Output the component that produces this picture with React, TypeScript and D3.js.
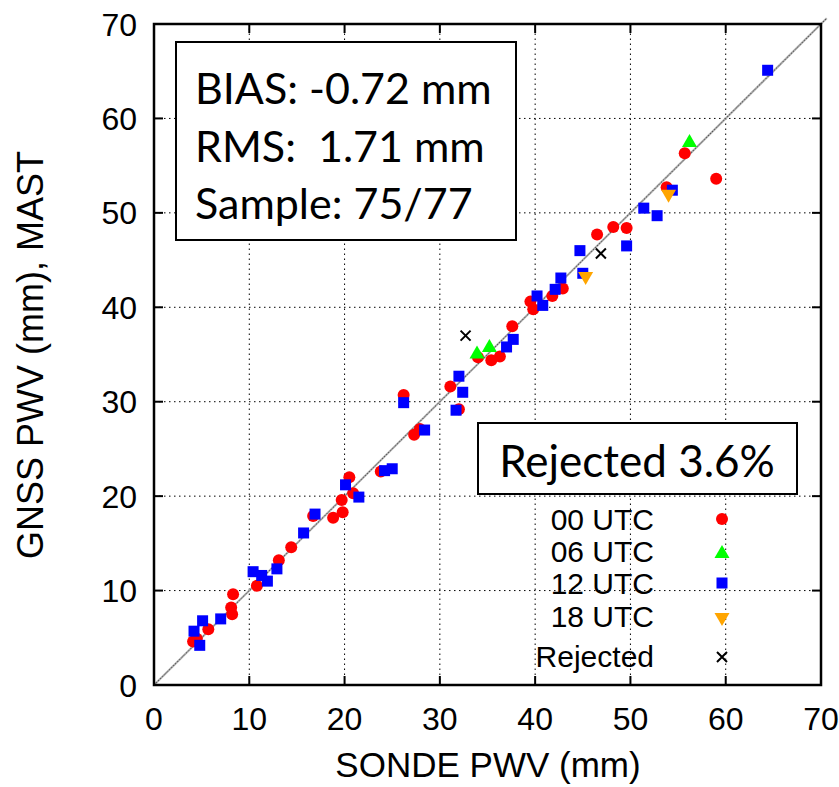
import React from "react";
import * as d3 from "d3";

const W = 839;
const H = 787;

const xTicks = [0, 10, 20, 30, 40, 50, 60, 70];
const yTicks = [0, 10, 20, 30, 40, 50, 60, 70];

const utc00: [number, number][] = [
  [4.1, 4.6], [4.5, 4.9], [5.7, 5.9], [8.3, 9.6], [8.1, 8.2], [8.2, 7.5],
  [10.8, 10.5], [13.1, 13.2], [14.4, 14.6], [16.7, 17.9], [18.8, 17.7],
  [19.7, 19.6], [19.8, 18.3], [20.5, 22.0], [20.9, 20.3], [23.8, 22.6],
  [27.3, 26.5], [27.9, 27.1], [26.2, 30.7], [31.1, 31.6], [32.0, 29.2],
  [34.0, 34.7], [35.4, 34.4], [36.3, 34.8], [37.6, 38.0], [39.5, 40.6],
  [39.8, 39.8], [41.8, 41.2], [42.9, 42.0], [46.5, 47.7], [48.2, 48.5],
  [49.6, 48.4], [53.8, 52.7], [55.7, 56.3], [59.0, 53.6],
];
const utc06: [number, number][] = [[33.9, 35.2], [35.2, 35.9], [56.2, 57.6]];
const utc12: [number, number][] = [
  [4.2, 5.7], [4.8, 4.2], [5.1, 6.8], [7.0, 7.0], [10.4, 12.0], [11.3, 11.6],
  [11.9, 11.0], [12.9, 12.3], [15.7, 16.1], [16.9, 18.1], [20.1, 21.2],
  [21.5, 19.9], [24.2, 22.7], [25.0, 22.9], [26.2, 29.9], [28.4, 27.0],
  [32.0, 32.7], [32.4, 31.0], [31.7, 29.1], [37.0, 35.8], [37.7, 36.6],
  [40.2, 41.2], [40.8, 40.2], [42.1, 41.9], [42.7, 43.1], [44.7, 46.0],
  [45.0, 43.6], [49.6, 46.5], [51.4, 50.5], [52.8, 49.7], [54.4, 52.4],
  [64.4, 65.1],
];
const utc18: [number, number][] = [[45.3, 43.1], [54.0, 51.8]];
const rejected: [number, number][] = [[32.7, 37.0], [46.9, 45.7]];

const statsLines = ["BIAS: -0.72 mm", "RMS:  1.71 mm", "Sample: 75/77"];
const rejectedLabel = "Rejected 3.6%";
const legendLabels = ["00 UTC", "06 UTC", "12 UTC", "18 UTC", "Rejected"];

const L = 154, R = 821, T = 24, B = 685;
const x = d3.scaleLinear().domain([0, 70]).range([L, R]);
const y = d3.scaleLinear().domain([0, 70]).range([B, T]);

const axisFont = "'Liberation Sans', Arial, sans-serif";
const boxFont = "Lato, 'Open Sans', sans-serif";

function Circle({ cx, cy }: { cx: number; cy: number }) {
  return <circle cx={cx} cy={cy} r={6} fill="#ff0000" />;
}
function Square({ cx, cy }: { cx: number; cy: number }) {
  return <rect x={cx - 5.5} y={cy - 5.5} width={11} height={11} fill="#0000ff" />;
}
function TriUp({ cx, cy }: { cx: number; cy: number }) {
  return <path d={`M${cx},${cy - 7} L${cx + 7.5},${cy + 6} L${cx - 7.5},${cy + 6}Z`} fill="#00ff00" />;
}
function TriDown({ cx, cy }: { cx: number; cy: number }) {
  return <path d={`M${cx},${cy + 7} L${cx + 7.5},${cy - 6} L${cx - 7.5},${cy - 6}Z`} fill="#ffa500" />;
}
function Cross({ cx, cy }: { cx: number; cy: number }) {
  const s = 5;
  return (
    <path d={`M${cx - s},${cy - s}L${cx + s},${cy + s}M${cx - s},${cy + s}L${cx + s},${cy - s}`} stroke="#000" strokeWidth={2} />
  );
}

export default function App() {
  const inner = xTicks.filter((t) => t > 0 && t < 70);
  const legX = 722;
  const legY = [519, 552, 583, 619, 657];
  const legTextY = [530, 562, 594, 627, 667];
  return (
    <svg width={W} height={H} style={{ position: "absolute", left: 0, top: 0, background: "#fff" }}>
      <rect x={0} y={0} width={W} height={H} fill="#fff" />
      {inner.map((t) => (
        <line key={"gx" + t} x1={x(t)} x2={x(t)} y1={B} y2={T} stroke="#000" strokeWidth={1} strokeDasharray="1.5,3.5" />
      ))}
      {inner.map((t) => (
        <line key={"gy" + t} x1={L} x2={R} y1={y(t)} y2={y(t)} stroke="#000" strokeWidth={1} strokeDasharray="1.5,3.5" />
      ))}
      <line x1={x(0)} y1={y(0)} x2={x(70.6)} y2={y(70.6)} stroke="#aaaaaa" strokeWidth={2} />
      <line x1={x(0)} y1={y(0)} x2={x(70.6)} y2={y(70.6)} stroke="#000" strokeWidth={0.7} strokeDasharray="1,2" />
      <rect x={176} y={42} width={340} height={198} fill="#fff" stroke="#000" strokeWidth={2} />
      {statsLines.map((s, i) => (
        <text key={s} x={195} y={104 + i * 57.5} fontFamily={boxFont} fontSize={43} fill="#000" style={{ whiteSpace: "pre" }}>
          {s}
        </text>
      ))}
      <rect x={478} y={423} width={319} height={71} fill="#fff" stroke="#000" strokeWidth={2} />
      <text x={637} y={477} textAnchor="middle" fontFamily={boxFont} fontSize={44} fill="#000">
        {rejectedLabel}
      </text>
      {utc00.map((d, i) => <Circle key={"a" + i} cx={x(d[0])} cy={y(d[1])} />)}
      {utc06.map((d, i) => <TriUp key={"b" + i} cx={x(d[0])} cy={y(d[1])} />)}
      {utc12.map((d, i) => <Square key={"c" + i} cx={x(d[0])} cy={y(d[1])} />)}
      {utc18.map((d, i) => <TriDown key={"d" + i} cx={x(d[0])} cy={y(d[1])} />)}
      {rejected.map((d, i) => <Cross key={"e" + i} cx={x(d[0])} cy={y(d[1])} />)}
      {legendLabels.map((s, i) => (
        <text key={s} x={654} y={legTextY[i]} textAnchor="end" fontFamily={axisFont} fontSize={30} fill="#000">
          {s}
        </text>
      ))}
      <Circle cx={legX} cy={legY[0]} />
      <TriUp cx={legX} cy={legY[1]} />
      <Square cx={legX} cy={legY[2]} />
      <TriDown cx={legX} cy={legY[3]} />
      <Cross cx={legX} cy={legY[4]} />
      <rect x={L} y={T} width={R - L} height={B - T} fill="none" stroke="#000" strokeWidth={2.5} />
      {xTicks.map((t) => (
        <g key={"tx" + t}>
          <line x1={x(t)} x2={x(t)} y1={B} y2={B - 9} stroke="#000" strokeWidth={2} />
          <line x1={x(t)} x2={x(t)} y1={T} y2={T + 9} stroke="#000" strokeWidth={2} />
          <text x={x(t)} y={730} textAnchor="middle" fontFamily={axisFont} fontSize={32} fill="#000">
            {t}
          </text>
        </g>
      ))}
      {yTicks.map((t) => (
        <g key={"ty" + t}>
          <line x1={L} x2={L + 9} y1={y(t)} y2={y(t)} stroke="#000" strokeWidth={2} />
          <line x1={R} x2={R - 9} y1={y(t)} y2={y(t)} stroke="#000" strokeWidth={2} />
          <text x={137} y={y(t) + 11.5} textAnchor="end" fontFamily={axisFont} fontSize={32} fill="#000">
            {t}
          </text>
        </g>
      ))}
      <text x={488} y={777} textAnchor="middle" fontFamily={axisFont} fontSize={35} fill="#000">
        SONDE PWV (mm)
      </text>
      <text transform="translate(43,355) rotate(-90)" textAnchor="middle" fontFamily={axisFont} fontSize={36} fill="#000">
        GNSS PWV (mm), MAST
      </text>
    </svg>
  );
}
